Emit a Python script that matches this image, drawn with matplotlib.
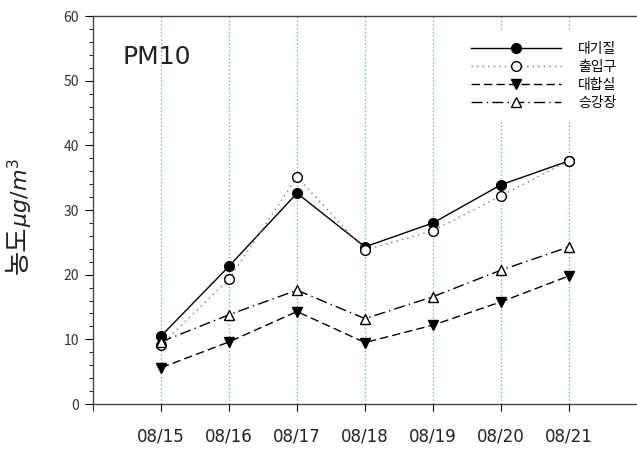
import numpy as np
import matplotlib.pyplot as plt
import matplotlib.ticker as mticker

plt.rcParams['font.family'] = ['Noto Sans CJK KR', 'DejaVu Sans']
plt.rcParams['mathtext.fontset'] = 'dejavusans'

dates = ['08/15', '08/16', '08/17', '08/18', '08/19', '08/20', '08/21']
air = [10.5, 21.3, 32.6, 24.3, 28.0, 33.9, 37.6]          # 대기질
entrance = [9.1, 19.3, 35.1, 23.8, 26.8, 32.2, 37.6]     # 출입구
hall = [5.6, 9.6, 14.3, 9.5, 12.2, 15.8, 19.8]           # 대합실
platform = [9.6, 13.8, 17.6, 13.2, 16.6, 20.7, 24.3]     # 승강장

x = np.arange(1, len(dates) + 1)

fig = plt.figure(figsize=(6.37, 4.49), dpi=100)
ax = fig.add_axes([93 / 637, 45 / 449, 1 - 93 / 637, (404 - 16) / 449])

# vertical grid at each date
for xi in x:
    ax.axvline(xi, color='#4cc44c', lw=0.9, ls=(0, (1, 2)), zorder=0)

ax.plot(x, air, '-', color='black', lw=1.0, marker='o', ms=7,
        mfc='black', mec='black', label='대기질')
ax.plot(x, entrance, color='#777777', lw=1.0, ls=(0, (1, 3)), marker='o', ms=7,
        mfc='white', mec='black', label='출입구')
ax.plot(x, hall, color='black', lw=1.0, ls=(0, (6, 3)), marker='v', ms=7,
        mfc='black', mec='black', label='대합실')
ax.plot(x, platform, color='black', lw=1.0, ls=(0, (8, 3, 1, 3)), marker='^', ms=7,
        mfc='white', mec='black', label='승강장')

ax.set_xlim(0, 8)
ax.set_ylim(0, 60)
ax.set_xticks(x)
ax.set_xticklabels(dates, fontsize=12, color='#222222', family=['DejaVu Sans'])
ax.xaxis.set_minor_locator(mticker.FixedLocator([0]))
ax.tick_params(axis='x', which='both', direction='out', length=5, pad=12)
ax.tick_params(axis='x', which='minor', length=5)

ax.yaxis.set_major_locator(mticker.MultipleLocator(10))
ax.yaxis.set_minor_locator(mticker.MultipleLocator(2))
ax.tick_params(axis='y', which='major', direction='out', length=6, pad=4,
               labelsize=10, labelcolor='#333333')
ax.tick_params(axis='y', which='minor', direction='out', length=3)

for side in ['left', 'bottom', 'top']:
    ax.spines[side].set_color('#444444')
    ax.spines[side].set_linewidth(1.0)
ax.spines['right'].set_visible(False)

ax.text(0.94, 53.6, 'PM10', fontsize=18, family=['DejaVu Sans'], color='#222222',
        ha='center', va='center')

leg = ax.legend(loc='upper right', bbox_to_anchor=(0.995, 0.98), fontsize=10,
                handlelength=6.5, handletextpad=1.2, labelspacing=0.3,
                frameon=True, edgecolor='white', facecolor='white', framealpha=1,
                borderpad=0.8)
leg.get_frame().set_linewidth(0)

fig.text(18 / 637, 1 - 250 / 449, '농도', rotation=90, fontsize=19,
         ha='center', va='center', color='#222222')
fig.text(20 / 637, 1 - 192 / 449, '$\\mu g/m^{3}$', rotation=90, fontsize=16,
         ha='center', va='center', color='#222222')

fig.savefig('out.png', dpi=100)
